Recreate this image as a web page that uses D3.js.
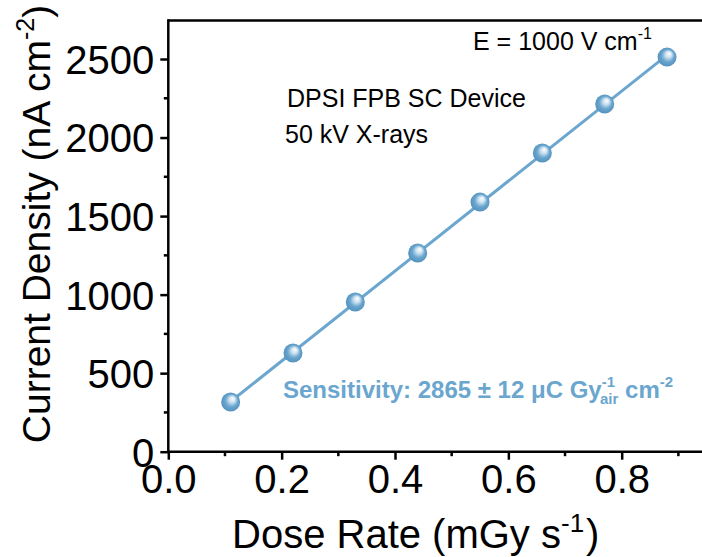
<!DOCTYPE html>
<html>
<head>
<meta charset="utf-8">
<script src="https://cdn.jsdelivr.net/npm/d3@7"></script>
<style>
  html, body { margin: 0; padding: 0; background: #fff; }
  svg { display: block; }
  text { font-family: "Liberation Sans", Arial, Helvetica, sans-serif; }
</style>
</head>
<body>
<svg id="chart" width="702" height="557"></svg>
<script>
// ---- data ----
const doseRate = [0.11, 0.22, 0.33, 0.44, 0.55, 0.66, 0.77, 0.88];
const currentDensity = [316, 628, 953, 1265, 1589, 1901, 2213, 2512];
const xTicks = [0.0, 0.2, 0.4, 0.6, 0.8];
const xMinorTicks = [0.1, 0.3, 0.5, 0.7, 0.9];
const yTicks = [0, 500, 1000, 1500, 2000, 2500];
const yMinorTicks = [250, 750, 1250, 1750, 2250];
const xLimits = [0, 0.95];
const yLimits = [0, 2745];

// ---- layout ----
const svg = d3.select("#chart");
const blue = "#6aa6ce";
const x = d3.scaleLinear().domain([0, 0.8]).range([168.3, 621.7]);
const y = d3.scaleLinear().domain([0, 2500]).range([451.7, 59]);

const defs = svg.append("defs");
const grad = defs.append("radialGradient").attr("id", "ball")
  .attr("cx", "50%").attr("cy", "50%").attr("r", "55%")
  .attr("fx", "62%").attr("fy", "30%");
grad.append("stop").attr("offset", "0%").attr("stop-color", "#ffffff");
grad.append("stop").attr("offset", "28%").attr("stop-color", "#cfe3f2");
grad.append("stop").attr("offset", "60%").attr("stop-color", "#6aa6ce");
grad.append("stop").attr("offset", "100%").attr("stop-color", "#4f8dba");

// frame top line
svg.append("line")
  .attr("x1", x(xLimits[0])).attr("x2", x(xLimits[1]))
  .attr("y1", y(yLimits[1])).attr("y2", y(yLimits[1]))
  .attr("stroke", "#000").attr("stroke-width", 2.5);

// axes
const xAxis = d3.axisBottom(x).tickValues(xTicks).tickFormat(d3.format(".1f"))
  .tickSize(8).tickPadding(5);
const gx = svg.append("g").attr("transform", `translate(0,${y(0)})`).call(xAxis);
gx.select(".domain").attr("d", `M${x(xLimits[0])},0H${x(xLimits[1])}`)
  .attr("stroke", "#000").attr("stroke-width", 2.5);
gx.selectAll(".tick line").attr("stroke", "#000").attr("stroke-width", 2.5);
gx.selectAll(".tick text").attr("font-size", 40).attr("fill", "#000")
  .attr("font-family", '"Liberation Sans", Arial, sans-serif')
  .attr("dy", "0.72em");
gx.selectAll(".minor").data(xMinorTicks).enter().append("line")
  .attr("x1", d => x(d)).attr("x2", d => x(d)).attr("y1", 0).attr("y2", 4.5)
  .attr("stroke", "#000").attr("stroke-width", 2.5);

const yAxis = d3.axisLeft(y).tickValues(yTicks).tickFormat(d3.format("d"))
  .tickSize(8).tickPadding(6);
const gy = svg.append("g").attr("transform", `translate(${x(0)},0)`).call(yAxis);
gy.select(".domain").attr("d", `M0,${y(yLimits[1]) - 1.25}V${y(0)}`)
  .attr("stroke", "#000").attr("stroke-width", 2.5);
gy.selectAll(".tick line").attr("stroke", "#000").attr("stroke-width", 2.5);
gy.selectAll(".tick text").attr("font-size", 40).attr("fill", "#000")
  .attr("font-family", '"Liberation Sans", Arial, sans-serif')
  .attr("dy", "0.36em");
gy.selectAll(".minor").data(yMinorTicks).enter().append("line")
  .attr("y1", d => y(d)).attr("y2", d => y(d)).attr("x1", 0).attr("x2", -4.5)
  .attr("stroke", "#000").attr("stroke-width", 2.5);

// axis titles
const xt = svg.append("text").attr("x", 232).attr("y", 548)
  .attr("font-size", 40).attr("fill", "#000");
xt.append("tspan").text("Dose Rate (mGy s");
xt.append("tspan").attr("font-size", 26).attr("dy", -16).text("-1");
xt.append("tspan").attr("dy", 16).attr("dx", 2).text(")");

const yt = svg.append("text")
  .attr("transform", "translate(50,224) rotate(-90)")
  .attr("text-anchor", "middle").attr("font-size", 39).attr("fill", "#000");
yt.append("tspan").text("Current Density (nA cm");
yt.append("tspan").attr("font-size", 25).attr("dy", -16).text("-2");
yt.append("tspan").attr("dy", 16).text(")");

// linear fit
const n = doseRate.length;
const mx = d3.mean(doseRate), my = d3.mean(currentDensity);
let sxy = 0, sxx = 0;
for (let i = 0; i < n; i++) {
  sxy += (doseRate[i] - mx) * (currentDensity[i] - my);
  sxx += (doseRate[i] - mx) ** 2;
}
const slope = sxy / sxx, intercept = my - slope * mx;
const fitX = [d3.min(doseRate), d3.max(doseRate)];
svg.append("path")
  .attr("d", d3.line().x(d => x(d)).y(d => y(intercept + slope * d))(fitX))
  .attr("stroke", blue).attr("stroke-width", 3).attr("fill", "none");

// markers
svg.selectAll(".pt").data(doseRate).enter().append("circle")
  .attr("cx", d => x(d)).attr("cy", (d, i) => y(currentDensity[i]))
  .attr("r", 9.5).attr("fill", "url(#ball)");

// annotations
const e = svg.append("text").attr("x", 473).attr("y", 50)
  .attr("font-size", 25).attr("fill", "#000");
e.append("tspan").text("E = 1000 V cm");
e.append("tspan").attr("font-size", 16).attr("dy", -11).text("-1");

svg.append("text").attr("x", 287).attr("y", 107).attr("font-size", 25)
  .attr("fill", "#000").text("DPSI FPB SC Device");
svg.append("text").attr("x", 285).attr("y", 143).attr("font-size", 25)
  .attr("fill", "#000").text("50 kV X-rays");

const s = svg.append("text").attr("x", 283).attr("y", 398)
  .attr("font-size", 24).attr("font-weight", "bold").attr("fill", blue);
s.append("tspan").text("Sensitivity: 2865 \u00B1 12 \u03BCC Gy");
s.append("tspan").attr("font-size", 15).attr("dy", -11).text("-1");
s.append("tspan").attr("font-size", 15).attr("dy", 17).attr("dx", -15).text("air");
s.append("tspan").attr("dy", -6).text(" cm");
s.append("tspan").attr("font-size", 15).attr("dy", -11).text("-2");
</script>
</body>
</html>
